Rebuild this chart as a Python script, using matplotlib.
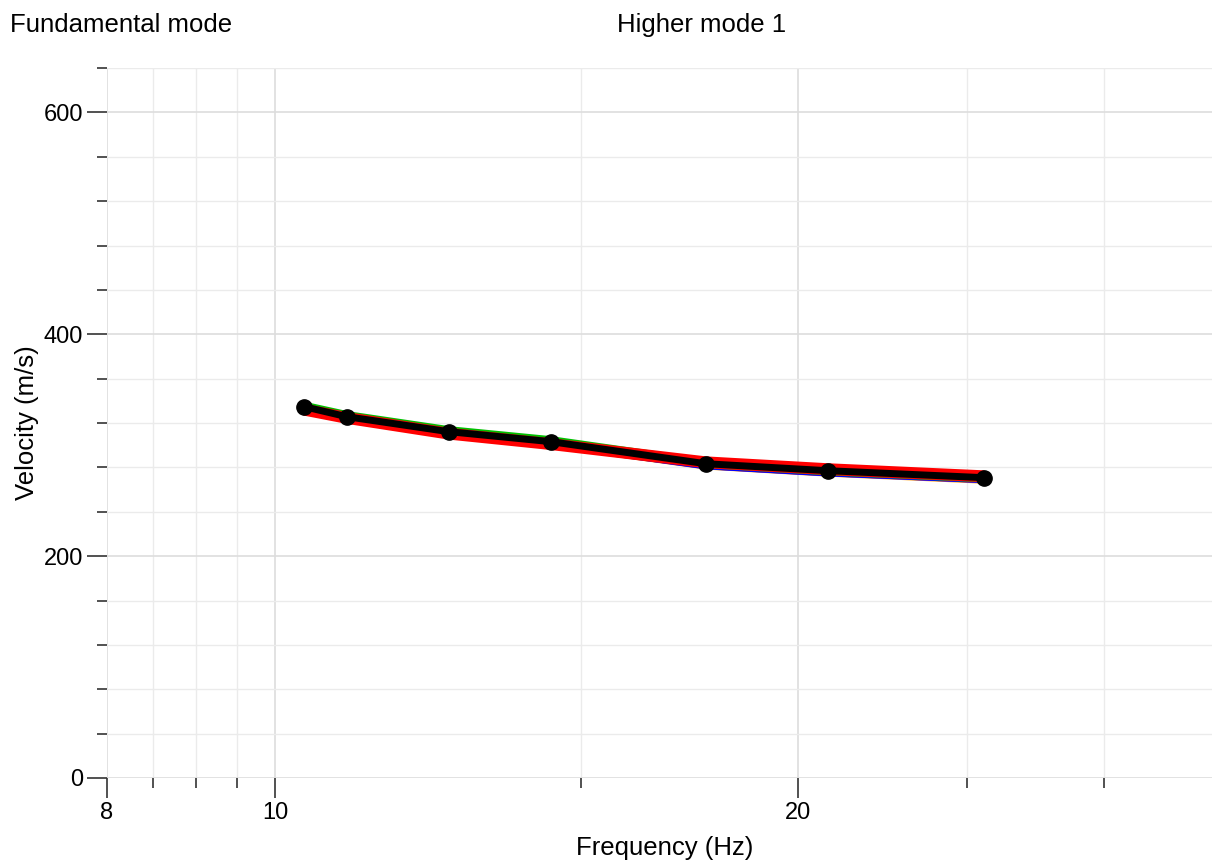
import matplotlib.pyplot as plt
from matplotlib.ticker import FixedLocator, NullFormatter

# Picked dispersion points (Hz, m/s)
freq = [10.39, 10.99, 12.58, 14.40, 17.69, 20.80, 25.59]
vel = [334.7, 325.7, 312.2, 303.2, 283.3, 277.0, 270.7]

# Model curves evaluated at the same frequencies
model_red = [332.0, 324.6, 310.4, 301.0, 284.6, 278.4, 272.0]
model_green = [334.8, 326.4, 312.8, 303.8, 283.8, 277.2, 270.8]
model_blue = [333.4, 325.0, 311.2, 302.0, 282.6, 276.2, 270.2]
model_orange = [333.0, 324.8, 311.0, 301.8, 282.4, 276.0, 269.6]
model_purple = [333.6, 325.2, 311.4, 302.2, 282.8, 276.4, 270.2]

major_x = [8, 10, 20]
minor_x = [8.5, 9, 9.5, 15, 25, 30]
major_y = [0, 200, 400, 600]
minor_y = [40, 80, 120, 160, 240, 280, 320, 360, 440, 480, 520, 560, 640]

plt.rcParams['font.family'] = ['Liberation Sans', 'DejaVu Sans']

fig = plt.figure(figsize=(12.12, 8.61), dpi=100)
ax = fig.add_axes([107 / 1212, 83 / 861, 1 - 107 / 1212, 710 / 861])

for m, c in [(model_orange, '#ff9900'), (model_purple, '#8000c0'),
             (model_blue, '#0000ff'), (model_green, '#00c000')]:
    ax.plot(freq, m, color=c, lw=7, solid_capstyle='butt', zorder=2)
ax.plot(freq, model_red, color='#ff0000', lw=8.5, solid_capstyle='butt', zorder=3)
ax.plot(freq, vel, color='black', lw=5, marker='o', ms=11, zorder=4)

ax.set_xscale('log')
ax.set_xlim(8, 34.6)
ax.set_ylim(0, 640)

ax.xaxis.set_major_locator(FixedLocator(major_x))
ax.xaxis.set_minor_locator(FixedLocator(minor_x))
ax.set_xticklabels([str(v) for v in major_x])
ax.xaxis.set_minor_formatter(NullFormatter())
ax.yaxis.set_major_locator(FixedLocator(major_y))
ax.yaxis.set_minor_locator(FixedLocator(minor_y))

for s in ax.spines.values():
    s.set_visible(False)

ax.tick_params(which='major', direction='out', length=14.4, width=1.2,
               color='#333333', labelsize=17, pad=3)
ax.tick_params(which='minor', direction='out', length=7.2, width=1.2,
               color='#333333')
ax.grid(True, which='major', color='#dddddd', lw=1.2, zorder=0)
ax.grid(True, which='minor', color='#ebebeb', lw=1.0, zorder=0)
ax.set_axisbelow(True)

ax.set_xlabel('Frequency (Hz)', fontsize=18.5)
ax.set_ylabel('Velocity (m/s)', fontsize=18.5)
ax.xaxis.set_label_coords((665 - 107) / 1105, -(836 - 778) / 710)
ax.yaxis.set_label_coords((39 - 107) / 1105, 0.5)

fig.text(10 / 1212, 1 - 25 / 861, 'Fundamental mode', fontsize=18.5,
         ha='left', va='center')
fig.text(702 / 1212, 1 - 25 / 861, 'Higher mode 1', fontsize=18.5,
         ha='center', va='center')

fig.savefig('out.png', dpi=100)
